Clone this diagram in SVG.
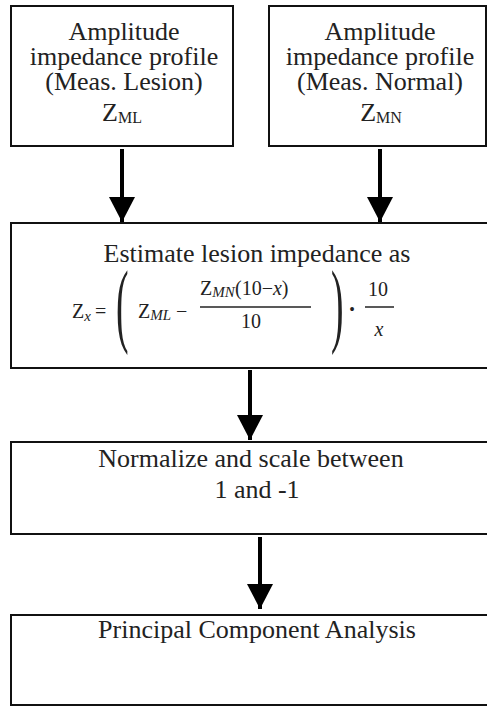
<svg xmlns="http://www.w3.org/2000/svg" width="487" height="707" viewBox="0 0 487 707">
<style>
.box{fill:#fff;stroke:#111;stroke-width:2}
.t{font-family:"Liberation Serif","Times New Roman",serif;font-size:26px;fill:#222;text-anchor:middle}
.m{font-family:"Liberation Serif","Times New Roman",serif;font-size:20px;fill:#222}
.p{font-family:"Liberation Serif","Times New Roman",serif;font-size:94px;fill:#222}
.s{font-size:15px}
.i{font-style:italic}
.conn{stroke:#000;stroke-width:4;fill:none}
.fl{stroke:#222;stroke-width:1.5}
</style>
<defs>
<marker id="ah" markerUnits="userSpaceOnUse" markerWidth="26" markerHeight="26" viewBox="0 0 26 26" refX="25" refY="13" orient="auto">
<path d="M0,0 L25,13 L0,26 Z" fill="#000"/>
</marker>
</defs>
<g id="node-lesion">
<rect class="box" x="11" y="6" width="222" height="140"/>
<text class="t" x="124" y="40">Amplitude</text>
<text class="t" x="124" y="65">impedance profile</text>
<text class="t" x="124" y="90">(Meas. Lesion)</text>
<text class="t" x="122" y="121">Z<tspan style="font-size:16px" dy="2">ML</tspan></text>
</g>
<g id="node-normal">
<rect class="box" x="269" y="6" width="217" height="140"/>
<text class="t" x="380" y="40">Amplitude</text>
<text class="t" x="380" y="65">impedance profile</text>
<text class="t" x="380" y="90">(Meas. Normal)</text>
<text class="t" x="381" y="121">Z<tspan style="font-size:16px" dy="2">MN</tspan></text>
</g>
<g id="node-estimate">
<rect class="box" x="11" y="223" width="490" height="145"/>
<text class="t" x="257" y="262">Estimate lesion impedance as</text>
<text class="m" x="72" y="318">Z<tspan class="i s" dy="3">x</tspan></text>
<text class="m" x="95" y="318">=</text>
<text class="p" transform="translate(116,335) scale(0.4,1)">(</text>
<text class="m" x="138" y="318">Z<tspan class="i s" dy="2">ML</tspan></text>
<text class="m" x="176" y="318">−</text>
<text class="m" x="200" y="295">Z<tspan class="i s" dy="2">MN</tspan><tspan dy="-2" x="235">(10−<tspan class="i">x</tspan>)</tspan></text>
<line class="fl" x1="200" y1="307" x2="311" y2="307"/>
<text class="m" x="251" y="328" text-anchor="middle">10</text>
<text class="p" transform="translate(331,335) scale(0.4,1)">)</text>
<text class="m" x="352" y="315" style="font-size:16px" text-anchor="middle">•</text>
<text class="m" x="378" y="296" text-anchor="middle">10</text>
<line class="fl" x1="365" y1="307" x2="394" y2="307"/>
<text class="m i" x="379" y="336" text-anchor="middle">x</text>
</g>
<g id="node-normalize">
<rect class="box" x="11" y="442" width="490" height="92"/>
<text class="t" x="251" y="467">Normalize and scale between</text>
<text class="t" x="257" y="498">1 and -1</text>
</g>
<g id="node-pca">
<rect class="box" x="11" y="615" width="490" height="90"/>
<text class="t" x="257" y="638">Principal Component Analysis</text>
</g>
<g id="connectors">
<path class="conn" d="M122,149 V222" marker-end="url(#ah)"/>
<path class="conn" d="M380,149 V222" marker-end="url(#ah)"/>
<path class="conn" d="M250,370 V440" marker-end="url(#ah)"/>
<path class="conn" d="M260,537 V609" marker-end="url(#ah)"/>
</g>
</svg>
